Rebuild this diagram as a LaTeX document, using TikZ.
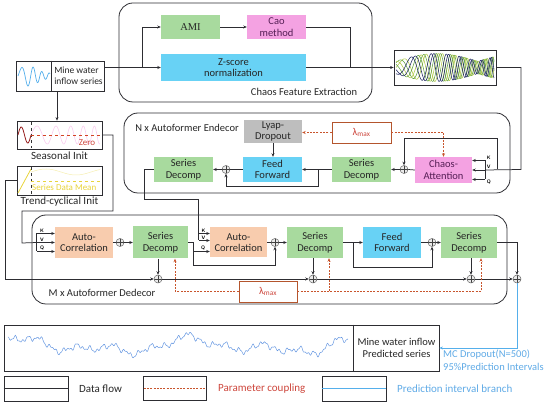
\documentclass[tikz,border=0pt]{standalone}
\usepackage{fontspec}
\setmainfont{Carlito}
\newfontfamily\serifam{Liberation Serif}
\usetikzlibrary{arrows.meta,calc}
\definecolor{cgreen}{RGB}{168,218,158}
\definecolor{cpink}{RGB}{244,162,226}
\definecolor{cpurp}{RGB}{85,30,85}
\definecolor{ccyan}{RGB}{104,210,245}
\definecolor{cpeach}{RGB}{248,204,174}
\definecolor{cgray}{RGB}{190,190,190}
\definecolor{cred}{RGB}{200,85,45}
\definecolor{clam}{RGB}{180,85,45}
\definecolor{clamt}{RGB}{205,70,60}
\definecolor{cblue}{RGB}{85,175,235}
\definecolor{ctxt}{RGB}{95,170,230}
\definecolor{cline}{RGB}{45,45,50}
\definecolor{cyel}{RGB}{232,212,60}
\definecolor{cdred}{RGB}{150,30,30}
\definecolor{cnavy}{RGB}{30,40,95}
\definecolor{cwgreen}{RGB}{95,160,60}
\definecolor{cwyel}{RGB}{175,200,70}
\definecolor{cpredw}{RGB}{100,150,225}
\tikzset{
  blk/.style={inner sep=0pt, align=center, text=black!85},
  sz/.style 2 args={minimum width=#1pt, minimum height=#2pt},
  frm/.style={draw=cline, line width=0.8pt, inner sep=0pt},
  conn/.style={draw=cline, line width=0.75pt},
  pdash/.style={draw=cred, line width=0.75pt, dash pattern=on 2pt off 1.3pt},
  blueln/.style={draw=cblue, line width=0.8pt},
  oplus/.style={circle, draw=black!60, fill=black!8, line width=0.5pt, minimum size=8pt, inner sep=0pt,
    path picture={\draw[black!75, line width=0.5pt] (path picture bounding box.north) -- (path picture bounding box.south)
      (path picture bounding box.west) -- (path picture bounding box.east);}},
  kvq/.style={inner sep=0pt, font=\sffamily\bfseries\fontsize{5}{5}\selectfont},
  lab/.style={inner sep=0pt, text=black!85},
  big/.style={font=\fontsize{11}{12}\selectfont},
}
\begin{document}
\begin{tikzpicture}[x=1pt,y=-1pt, >={Stealth[length=3.5pt,width=3pt]}, font=\fontsize{10.5}{11.5}\selectfont]
\useasboundingbox (0,0) rectangle (550,406);

% ---------- Chaos Feature Extraction ----------
\node[frm, rounded corners=14pt, sz={253}{99}] (cfe) at (245.5,52.5) {};
\node[lab] (cfel) at (304,92) {Chaos Feature Extraction};
\node[blk, fill=cgreen, sz={59}{24}, font=\serifam\fontsize{10.5}{11}\selectfont] (ami) at (190.5,27) {AMI};
\node[blk, fill=cpink, sz={59}{24}, text=cpurp] (cao) at (276.5,27) {Cao\\method};
\node[blk, fill=ccyan, sz={145}{27}] (zs) at (233.5,67.5) {Z-score\\normalization};

% input series
\node[frm, sz={88}{30}] (inp) at (60,76) {};
\draw[frm] ([xshift=36pt]inp.north west) -- ([xshift=36pt]inp.south west);
\draw[cblue, line width=0.7pt] plot[domain=18:50, samples=120] (\x, {76 - 10*(0.65+0.35*sin((\x-18)*9))*sin((\x-18)*22 + 0.5*(\x-18)^2)});
\node[blk, align=left, font=\fontsize{9.5}{11}\selectfont] (inpt) at (78.5,76) {Mine water\\inflow series};

% chaos waveform box
\node[frm, sz={102}{35}] (wav) at (445,67.5) {};
\begin{scope}
\clip (wav.south west) rectangle (wav.north east);
\foreach \ph/\cc in {0/cwyel, 50/cwgreen, 100/cwyel, 150/cwgreen, 200/cnavy, 260/cnavy} {
  \draw[\cc, line width=0.55pt] plot[domain=396:494, samples=220]
    (\x, {67.5 - 14*(0.45+0.55*abs(sin((\x-396)*2.2)))*sin((\x-396)*(10+0.16*(\x-396)) + \ph)});
}
\end{scope}

\coordinate (b1) at (142,67.5);
\coordinate (b2) at (350,67.5);
\draw[conn, ->] (inp.east |- zs.west) -- (zs.west);
\draw[conn, ->] (b1) |- (ami.west);
\draw[conn, ->] (ami) -- (cao);
\draw[conn] (cao.east) -| (b2);
\draw[conn, ->] (zs.east) -- (wav.west);

% ---------- Encoder ----------
\node[frm, rounded corners=14pt, sz={386}{80}] (enc) at (317,153) {};
\node[lab] (encl) at (187,128) {N x Autoformer Endecor};
\node[blk, fill=cgray, sz={58}{23}] (lyap) at (273,131.5) {Lyap-\\Dropout};
\node[blk, fill=white, draw=clam, line width=0.8pt, sz={59}{21}, text=clamt] (lam1) at (361.5,132.5) {λ\textsubscript{max}};
\node[blk, fill=cpink, sz={57}{26}, text=cpurp] (ca) at (443.5,170) {Chaos-\\Attention};
\node[blk, fill=cgreen, sz={59}{25}] (sdE2) at (361.5,169.5) {Series\\Decomp};
\node[blk, fill=ccyan, sz={59}{25}] (ffE) at (272.5,169.5) {Feed\\Forward};
\node[blk, fill=cgreen, sz={59}{25}] (sdE1) at (183.5,169.5) {Series\\Decomp};
\node[oplus] (oE1) at (226,169.5) {};
\node[oplus] (oE2) at (404,169.5) {};

% KVQ for chaos attention
\coordinate (caK) at ([xshift=13pt,yshift=9.5pt]ca.east);
\coordinate (caV) at ([xshift=13pt]ca.east);
\coordinate (caQ) at ([xshift=13pt,yshift=-9.5pt]ca.east);
\draw[conn] (caK) -- (caQ);
\draw[conn, ->] (caK) -- (caK -| ca.east);
\draw[conn, ->] (caV) -- (ca.east);
\draw[conn, ->] (caQ) -- (caQ -| ca.east);
\node[kvq, anchor=south west] (tK1) at ([xshift=1.5pt,yshift=1pt]caK) {K};
\node[kvq, anchor=south west] (tV1) at ([xshift=1.5pt,yshift=1pt]caV) {V};
\node[kvq, anchor=north west] (tQ1) at ([xshift=1.5pt,yshift=-0.5pt]caQ) {Q};

\coordinate (b3) at (521,169.5);
\draw[conn] (wav.east) -| (b3) -- (caV);
\coordinate (r1) at (497,169.5);
\coordinate (r2) at (497,138);
\draw[conn, ->] (r1) -- (r2) -| (oE2.north);
\draw[conn] (ca.west) -- (oE2.east);
\draw[conn, ->] (oE2.west) -- (sdE2.east);
\draw[conn, ->] (sdE2.west) -- (ffE.east);
\coordinate (r3) at (318,169.5);
\draw[conn, ->] (r3) -- ++(0,16.5) -| (oE1.south);
\draw[conn] (ffE.west) -- (oE1.east);
\draw[conn, ->] (oE1.west) -- (sdE1.east);
\draw[conn, ->] (lyap.south) -- (lyap.south |- ffE.north);
\draw[pdash, ->] (lam1.west) -- (lam1.west -| lyap.east);
\draw[pdash, ->] (lam1.east) -| (ca.north);

% ---------- Init boxes ----------
\node[frm, sz={85}{28}] (seas) at (59.5,135) {};
\draw[cdred, line width=0.8pt] plot[domain=18:31, samples=40] (\x, {135 - 8*sin((\x-18)*27.7)});
\draw[cpink!55, line width=0.6pt] plot[domain=31:100, samples=150] (\x, {135 - 9*sin((\x-31)*(14+0.16*(\x-31)))});
\draw[black!80, dashed, line width=0.6pt] (31,122) -- (31,148);
\draw[cred!80!red, dashed, line width=0.6pt] (31,135) -- (100,135);
\node[lab, text=clamt, font=\fontsize{9}{9}\selectfont] (zero) at (87,142.5) {Zero};
\node[lab, big] (seasl) at (59.5,155.5) {Seasonal Init};

\node[frm, sz={85}{29}] (trend) at (59.5,180.5) {};
\draw[cyel, line width=0.8pt] (18,193) -- (31,169);
\draw[cyel!40, line width=0.5pt] plot[domain=31:100, samples=60] (\x, {172 - 3*sin((\x-31)*6)});
\draw[black!80, dashed, line width=0.6pt] (31,167) -- (31,194);
\draw[cyel, dashed, line width=0.6pt] (31,181) -- (100,181);
\node[lab, text=cyel, font=\fontsize{9}{9}\selectfont, anchor=west] (sdm) at (32,187.5) {Series Data Mean};
\node[lab, big] (trendl) at (59.5,201.5) {Trend-cyclical Init};

\draw[conn, ->] (inp.south -| 57,0) -- (seas.north -| 57,0);

% ---------- Decoder ----------
\node[frm, rounded corners=14pt, sz={475}{89}] (dec) at (269.5,259.5) {};
\node[lab] (decl) at (102,292.5) {M x Autoformer Dedecor};
\node[blk, fill=cpeach, sz={58}{31}] (ac1) at (84,242.5) {Auto-\\Correlation};
\node[oplus] (oD1) at (120,242.5) {};
\node[blk, fill=cgreen, sz={55}{32}] (sdD1) at (160.5,242.5) {Series\\Decomp};
\node[blk, fill=cpeach, sz={57}{30}] (ac2) at (238.5,242.5) {Auto-\\Correlation};
\node[oplus] (oD2) at (275,242.5) {};
\node[blk, fill=cgreen, sz={56}{31}] (sdD2) at (315,242.5) {Series\\Decomp};
\node[blk, fill=ccyan, sz={58}{31}] (ffD) at (392,242.5) {Feed\\Forward};
\node[oplus] (oD3) at (432,242.5) {};
\node[blk, fill=cgreen, sz={56}{31}] (sdD3) at (469,242.5) {Series\\Decomp};
\node[oplus] (oB1) at (158,279) {};
\node[oplus] (oB2) at (313,279) {};
\node[oplus] (oB3) at (471,279) {};
\node[oplus] (oB4) at (517,279) {};
\node[blk, fill=white, draw=clam, line width=0.8pt, sz={58}{21}, text=clamt] (lam2) at (268,291.5) {λ\textsubscript{max}};

% KVQ ac1
\coordinate (a1K) at ([xshift=-18pt,yshift=9pt]ac1.west);
\coordinate (a1V) at ([xshift=-18pt]ac1.west);
\coordinate (a1Q) at ([xshift=-18pt,yshift=-9pt]ac1.west);
\draw[conn] (a1K) -- (a1Q);
\draw[conn, ->] (a1K) -- (a1K -| ac1.west);
\draw[conn, ->] (a1V) -- (ac1.west);
\draw[conn, ->] (a1Q) -- (a1Q -| ac1.west);
\node[kvq, anchor=south west] (tK2) at ([xshift=3pt,yshift=0.8pt]a1K) {K};
\node[kvq, anchor=south west] (tV2) at ([xshift=3pt,yshift=0.8pt]a1V) {V};
\node[kvq, anchor=south west] (tQ2) at ([xshift=3pt,yshift=0.8pt]a1Q) {Q};

% KVQ ac2
\coordinate (a2K) at ([xshift=-11pt,yshift=9pt]ac2.west);
\coordinate (a2V) at ([xshift=-11pt,yshift=2pt]ac2.west);
\coordinate (q2) at (193,251.5);
\draw[conn, ->] (a2K) -- (a2K -| ac2.west);
\draw[conn, ->] (a2V) -- (a2V -| ac2.west);
\draw[conn, ->] (q2) -- (q2 -| ac2.west);
\node[kvq, anchor=south west] (tK3) at ([xshift=2.5pt,yshift=0.8pt]a2K) {K};
\node[kvq, anchor=south west] (tV3) at ([xshift=2.5pt,yshift=0.8pt]a2V) {V};
\node[kvq, anchor=south west] (tQ3) at ([xshift=8pt,yshift=0.8pt]q2) {Q};

% encoder -> decoder
\coordinate (e1) at (144,199);
\coordinate (e2) at (a2K |- e1);
\draw[conn] (sdE1.west) -| (e1) -- (e2) -- (a2V);

% seasonal -> ac1 ; trend -> bottom line
\coordinate (d1) at (113,211);
\coordinate (d2) at (22,243);
\draw[conn] (seas.east) -| (d1) -| (d2) -- (a1V);
\coordinate (t1) at (5,279);
\draw[conn, ->] (trend.west) -| (t1) -- (oB1.west);

% decoder chain
\draw[conn] (ac1.east) -- (oD1.west);
\draw[conn, ->] (oD1.east) -- (sdD1.west);
\draw[conn] (sdD1.east) -| (q2);
\draw[conn, ->] (q2) -- ++(0,13.5) -| (oD2.south);
\draw[conn] (ac2.east) -- (oD2.west);
\draw[conn, ->] (oD2.east) -- (sdD2.west);
\draw[conn, ->] (sdD2.east) -- (ffD.west);
\coordinate (q3) at (353,242.5);
\draw[conn, ->] (q3) -- ++(0,24.5) -| (oD3.south);
\draw[conn] (ffD.east) -- (oD3.west);
\draw[conn, ->] (oD3.east) -- (sdD3.west);
\draw[conn, ->] (sdD3.east) -| (oB4.north);
\draw[conn, ->] (oB1.east) -- (oB2.west);
\draw[conn, ->] (oB2.east) -- (oB3.west);
\draw[conn, ->] (oB3.east) -- (oB4.west);
\draw[conn, ->] (sdD1.south -| oB1) -- (oB1.north);
\draw[conn, ->] (sdD2.south -| oB2) -- (oB2.north);
\draw[conn, ->] (sdD3.south -| oB3) -- (oB3.north);
\coordinate (dd1) at ([xshift=14.5pt]sdD1.south);
\coordinate (dd2) at ([xshift=14pt]sdD2.south);
\coordinate (dd3) at ([xshift=12pt]sdD3.south);
\draw[pdash, ->] (lam2.west) -| (dd1);
\draw[pdash, ->] (lam2.east) -| (dd3);
\draw[pdash, ->] (lam2.east -| dd2) -- (dd2);

% ---------- Prediction ----------
\node[frm, sz={435}{46}] (pred) at (221.5,348) {};
\draw[frm] ([xshift=350pt]pred.north west) -- ([xshift=350pt]pred.south west);
\draw[cpredw, line width=0.5pt] plot[domain=8:348, samples=420]
  (\x, {346 - 5*sin(\x*2.1+40) - 4*sin(\x*4.3+10) - 3*sin(\x*9.7+70) - 1.8*sin(\x*29+5) - 1.3*sin(10*mod(\x*5.3,36)) - 0.9*sin(10*mod(\x*9.7,36)+20)});
\node[blk, font=\fontsize{10.5}{12.5}\selectfont] (predt) at (396.5,348) {Mine water inflow\\Predicted series};
\draw[blueln, ->] (oB4.south) |- (pred.east);
\node[lab, text=ctxt, align=left, anchor=north west, font=\fontsize{10.5}{13}\selectfont] (mc) at (443,349.5) {MC Dropout(N=500)\\95\%Prediction Intervals};

% ---------- Legend ----------
\node[frm, sz={64}{25}] (lg1) at (36,388.5) {};
\draw[conn] (lg1.west) -- (lg1.east);
\node[lab, big, anchor=west] (lg1t) at (79,389) {Data flow};
\node[frm, sz={63}{24}] (lg2) at (174.5,388) {};
\draw[pdash] ([xshift=1pt]lg2.west) -- ([xshift=-1pt]lg2.east);
\node[lab, big, anchor=west, text=clamt] (lg2t) at (218,389) {Parameter coupling};
\node[frm, sz={64}{25}] (lg3) at (354,388.5) {};
\draw[blueln] (lg3.west) -- (lg3.east);
\node[lab, big, anchor=west, text=ctxt] (lg3t) at (397,389) {Prediction interval branch};
\end{tikzpicture}
\end{document}
